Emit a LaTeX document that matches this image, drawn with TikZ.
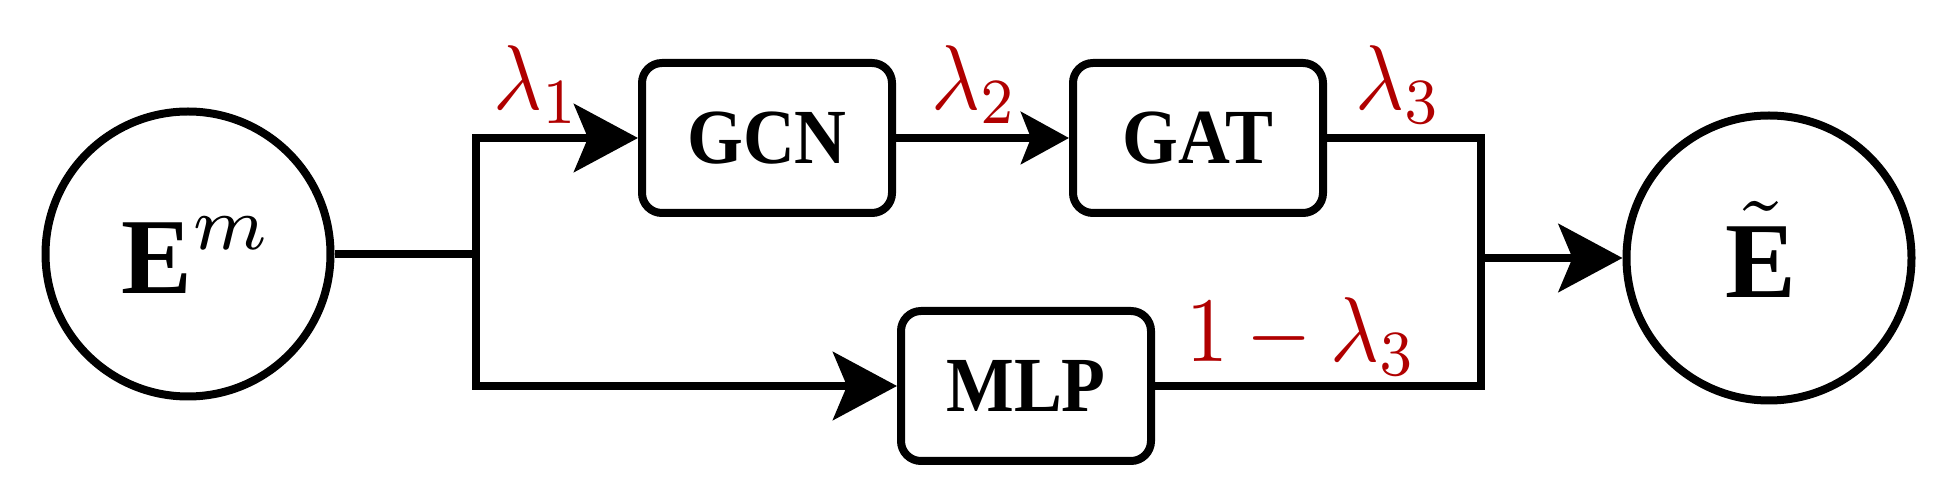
\documentclass[tikz,border=0pt]{standalone}
\usepackage{amsmath}
\usepackage{graphicx}
\usepackage{fontspec}
\newfontfamily\boxbf{Liberation Serif Bold}
\usetikzlibrary{arrows.meta}
\definecolor{lred}{RGB}{176,0,0}
\newcommand{\lamtxt}[1]{\scalebox{4.2}[4.6]{#1}}
\newcommand{\circtxt}[1]{\scalebox{5.3}[5.4]{#1}}
\newcommand{\boxtxt}[1]{\scalebox{0.92}[1]{#1}}
\newcommand{\bE}{\text{\boxbf E}}
\begin{document}
\begin{tikzpicture}[x=0.5pt,y=-0.5pt, line width=4pt,
  blk/.style={draw, rounded corners=10pt, minimum width=125pt, minimum height=75pt, inner sep=0pt,
    font=\boxbf\fontsize{39}{42}\selectfont},
  circ/.style={draw, circle, minimum size=142.5pt, inner sep=0pt, text height=40pt, text depth=0pt},
  arr/.style={-{Stealth[length=32pt,width=34pt,inset=7pt]}},
  arrs/.style={-{Stealth[length=24pt,width=26pt,inset=5pt]}},
  lam/.style={text=lred, inner sep=0pt, anchor=base west}]
\useasboundingbox (0,0) rectangle (1945,491);
\node[circ] (A) at (188,254) {\hspace*{9pt}\circtxt{$\bE^m$}};
\node[blk] (gcn) at (767,138) {\boxtxt{GCN}};
\node[blk] (gat) at (1198,138) {\boxtxt{GAT}};
\node[blk] (mlp) at (1026,386) {\boxtxt{MLP}};
\node[circ] (B) at (1769,258) {\circtxt{$\tilde{\bE}$}\hspace*{8pt}};
\coordinate (j1) at (476,254);
\coordinate (j2) at (1481,258);
\draw (A) -- (j1);
\draw[arr] (j1) |- (gcn);
\draw[arr] (j1) |- (mlp);
\draw[arrs] (gcn) -- (gat);
\draw (gat) -| (j2);
\draw (mlp) -| (j2);
\draw[arr] (j2) -- (B);
\node[lam] (l1) at (489,110) {\lamtxt{$\lambda_1$}};
\node[lam] (l2) at (927,110) {\lamtxt{$\lambda_2$}};
\node[lam] (l3) at (1351,110) {\lamtxt{$\lambda_3$}};
\node[lam] (l4) at (1182,362) {\lamtxt{$1-\lambda_3$}};
\end{tikzpicture}
\end{document}
